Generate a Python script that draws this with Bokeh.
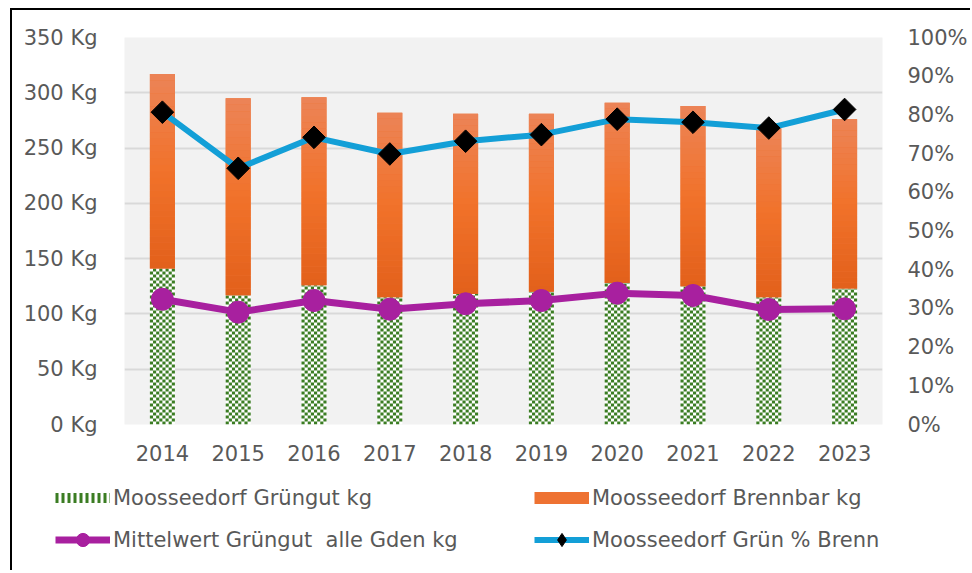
from bokeh.plotting import figure
from bokeh.layouts import column
from bokeh.models import (ColumnDataSource, Range1d, LinearAxis, FixedTicker, NumeralTickFormatter,
                          PrintfTickFormatter, Legend, LegendItem, FactorRange)
from bokeh.embed import file_html
from bokeh.resources import INLINE

years = ["2014", "2015", "2016", "2017", "2018", "2019", "2020", "2021", "2022", "2023"]
gruen_kg = [141, 117, 126, 115, 118, 120, 128, 125, 115, 123]
brennbar_kg = [176, 178, 170, 167, 163, 161, 163, 163, 153, 153]
mittelwert_kg = [113.3, 101.6, 112.1, 104.3, 109.2, 112.1, 118.8, 116.7, 104.0, 104.6]
gruen_pct_brenn = [0.807, 0.662, 0.742, 0.699, 0.732, 0.749, 0.789, 0.781, 0.766, 0.814]
kg_ticks = [0, 50, 100, 150, 200, 250, 300, 350]
pct_ticks = [0, 0.1, 0.2, 0.3, 0.4, 0.5, 0.6, 0.7, 0.8, 0.9, 1.0]
labels = ["Moosseedorf Grüngut kg", "Moosseedorf Brennbar kg",
          "Mittelwert Grüngut  alle Gden kg", "Moosseedorf Grün % Brenn"]

FONT = "DejaVu Sans"
TXT = "#595959"
GREEN = "#3b7d23"
ORANGE = "#ee7232"
OR_TOP = (236, 132, 88)
OR_MID = (241, 114, 42)
OR_BOT = (226, 96, 27)
PURPLE = "#a8209f"
BLUE = "#139fd7"

W = 958
FRAME_H = 387          # pixel height of the plot frame
YMAX = 350
BAR_W = 0.33
CELL_PX = 3
N_CELLCOLS = 8
N_SLICES = 30

src = ColumnDataSource(dict(
    year=years,
    gruen=gruen_kg,
    top=[g + b for g, b in zip(gruen_kg, brennbar_kg)],
    mittel=mittelwert_kg,
    pct=gruen_pct_brenn,
))

# checkerboard texture cells for the Grüngut bars (derived from bar heights)
ycell = YMAX * CELL_PX / FRAME_H
xcell = BAR_W / N_CELLCOLS
cl, cr, cb, ct = [], [], [], []
for i, g in enumerate(gruen_kg):
    x0 = i + 0.5 - BAR_W / 2
    r = 0
    while r * ycell < g:
        for c in range(N_CELLCOLS):
            if (r + c) % 2 == 0:
                cl.append(x0 + c * xcell)
                cr.append(x0 + (c + 1) * xcell)
                cb.append(r * ycell)
                ct.append(min((r + 1) * ycell, g))
        r += 1
cells = ColumnDataSource(dict(left=cl, right=cr, bottom=cb, top=ct))


def mix(a, b, t):
    return "#%02x%02x%02x" % tuple(round(a[k] + (b[k] - a[k]) * t) for k in range(3))


# vertical gradient slices for the Brennbar bars (derived from bar extents)
gl, gr, gb, gt, gc = [], [], [], [], []
for i, (g, b) in enumerate(zip(gruen_kg, brennbar_kg)):
    for k in range(N_SLICES):
        f = (k + 0.5) / N_SLICES
        gl.append(i + 0.5 - BAR_W / 2)
        gr.append(i + 0.5 + BAR_W / 2)
        gb.append(g + b * k / N_SLICES)
        gt.append(g + b * (k + 1) / N_SLICES)
        gc.append(mix(OR_BOT, OR_MID, f * 2) if f < 0.5 else mix(OR_MID, OR_TOP, (f - 0.5) * 2))
grad = ColumnDataSource(dict(left=gl, right=gr, bottom=gb, top=gt, color=gc))

p = figure(x_range=FactorRange(factors=years), y_range=Range1d(0, YMAX),
           width=W, height=464, output_backend="svg", toolbar_location=None,
           min_border_left=112, min_border_right=82, min_border_top=27, min_border_bottom=50,
           background_fill_color="#f2f2f2", border_fill_color="white", outline_line_color=None,
           frame_align=False)
p.extra_y_ranges = {"pct": Range1d(0, 1)}

p.xgrid.grid_line_color = None
p.ygrid.ticker = FixedTicker(ticks=kg_ticks)
p.ygrid.grid_line_color = "#d9d9d9"
p.ygrid.grid_line_width = 2

p.vbar(x="year", top="gruen", bottom=0, width=BAR_W, source=src, line_color=None, fill_color="white")
p.quad(left="left", right="right", bottom="bottom", top="top", source=cells,
       fill_color=GREEN, line_color=None)
p.vbar(x="year", top="top", bottom="gruen", width=BAR_W, source=src, line_color=None, fill_color=ORANGE)
p.quad(left="left", right="right", bottom="bottom", top="top", source=grad,
       fill_color="color", line_color=None)
p.line(x="year", y="mittel", source=src, line_color=PURPLE, line_width=7)
p.scatter(x="year", y="mittel", source=src, marker="circle", size=22, fill_color=PURPLE, line_color=PURPLE)
p.line(x="year", y="pct", source=src, y_range_name="pct", line_color=BLUE, line_width=6)
p.scatter(x="year", y="pct", source=src, y_range_name="pct", marker="square", angle=0.785398,
          size=16, fill_color="black", line_color="black")

p.yaxis.ticker = FixedTicker(ticks=kg_ticks)
p.yaxis.formatter = PrintfTickFormatter(format="%d Kg")
ax_r = LinearAxis(y_range_name="pct", ticker=FixedTicker(ticks=pct_ticks),
                  formatter=NumeralTickFormatter(format="0%"))
p.add_layout(ax_r, "right")

for ax in [p.xaxis[0], p.yaxis[0], ax_r]:
    ax.axis_line_color = None
    ax.major_tick_line_color = None
    ax.minor_tick_line_color = None
    ax.major_label_text_font = FONT
    ax.major_label_text_font_size = "21px"
    ax.major_label_text_color = TXT
p.yaxis[0].major_label_standoff = 21
ax_r.major_label_standoff = 19
p.xaxis[0].major_label_standoff = 14

# legend strip below the chart (hidden copies of the series supply the legend glyphs)
pl = figure(width=W, height=96, output_backend="svg", toolbar_location=None,
            x_range=FactorRange(factors=years), y_range=Range1d(0, 1),
            x_axis_type=None, y_axis_type=None, frame_align=False,
            min_border_left=0, min_border_right=0, min_border_top=0, min_border_bottom=0,
            background_fill_color="white", border_fill_color="white", outline_line_color=None)
pl.grid.visible = False
lg = pl.line(x="year", y="gruen", source=src, line_color=GREEN, line_width=10,
             line_dash="3 3", visible=False)
lo = pl.line(x="year", y="top", source=src, line_color=ORANGE, line_width=12, visible=False)
lml = pl.line(x="year", y="mittel", source=src, line_color=PURPLE, line_width=7, visible=False)
lmc = pl.scatter(x="year", y="mittel", source=src, marker="circle", size=14,
                 fill_color=PURPLE, line_color=PURPLE, visible=False)
lpl = pl.line(x="year", y="pct", source=src, line_color=BLUE, line_width=6, visible=False)
lpd = pl.scatter(x="year", y="pct", source=src, marker="diamond", size=14,
                 fill_color="black", line_color="black", visible=False)

legend = Legend(items=[
    LegendItem(label=labels[0], renderers=[lg]),
    LegendItem(label=labels[2], renderers=[lml, lmc]),
    LegendItem(label=labels[1], renderers=[lo]),
    LegendItem(label=labels[3], renderers=[lpl, lpd]),
], location=(43, 14), ncols=2)
legend.label_text_font = FONT
legend.label_text_font_size = "21px"
legend.label_text_color = TXT
legend.glyph_width = 55
legend.glyph_height = 33
legend.label_height = 33
legend.label_standoff = 3
legend.label_width = 412
legend.spacing = 9
legend.padding = 0
legend.margin = 0
legend.border_line_color = None
legend.background_fill_alpha = 0
legend.inactive_fill_alpha = 0
pl.add_layout(legend)

layout = column(p, pl, spacing=0,
                styles={"border-top": "2px solid black", "border-left": "2px solid black",
                        "margin-left": "10px", "margin-top": "8px"})

open("out.html", "w").write(file_html(layout, INLINE))
